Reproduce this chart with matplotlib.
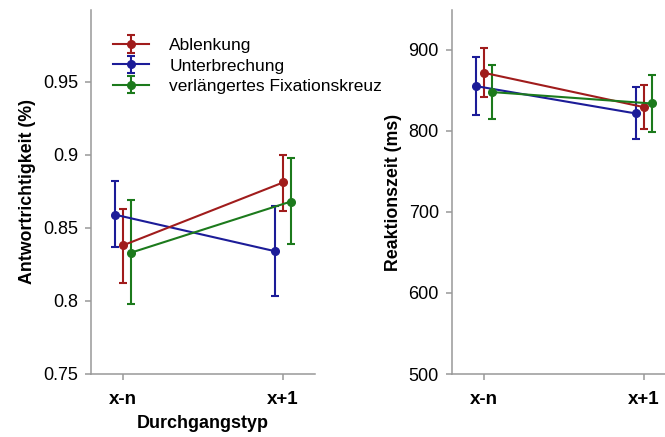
import matplotlib
matplotlib.use("Agg")
import matplotlib.pyplot as plt
import numpy as np

plt.rcParams['font.family'] = ['Liberation Sans', 'DejaVu Sans']

categories = ["x-n", "x+1"]
series = ["Ablenkung", "Unterbrechung", "verlängertes Fixationskreuz"]
colors = ["#A01C1C", "#1C1C98", "#1C7A1C"]
offsets = [0.0, -0.05, 0.05]

acc_mean = [[0.838, 0.881], [0.859, 0.834], [0.833, 0.868]]
acc_low = [[0.8125, 0.8616], [0.837, 0.8034], [0.7977, 0.839]]
acc_high = [[0.863, 0.900], [0.8817, 0.865], [0.869, 0.8977]]

rt_mean = [[871.6, 829.2], [855.2, 821.4], [847.8, 833.7]]
rt_low = [[841.1, 801.6], [818.9, 789.3], [814.4, 799.1]]
rt_high = [[902.5, 856.8], [890.5, 854.0], [881.5, 868.7]]

acc_ticks = [0.75, 0.8, 0.85, 0.9, 0.95]
acc_ticklabels = ["0.75", "0.8", "0.85", "0.9", "0.95"]
rt_ticks = [500, 600, 700, 800, 900]
rt_ticklabels = ["500", "600", "700", "800", "900"]

fig = plt.figure(figsize=(6.65, 4.37), dpi=100)
W, H = 665, 437
ax1 = fig.add_axes([91 / W, 63 / H, 224 / W, 364 / H])
ax2 = fig.add_axes([451.7 / W, 63 / H, 224 / W, 364 / H])

spine_col = "#999999"
x = np.arange(1, len(categories) + 1)

def draw(ax, mean, low, high, ylim, ticks, ticklabels, ylabel, legend=False):
    order = [1, 0, 2]
    handles = {}
    for i in order:
        m = np.array(mean[i]); lo = np.array(low[i]); hi = np.array(high[i])
        eb = ax.errorbar(x + offsets[i], m, yerr=[m - lo, hi - m], color=colors[i],
                         marker='o', markersize=5.5, lw=1.5, elinewidth=1.5,
                         capsize=3, capthick=1.5, label=series[i])
        handles[i] = eb
    ax.set_xlim(0.8, 2.2)
    ax.set_ylim(*ylim)
    ax.set_xticks(x)
    ax.set_xticklabels(categories, fontsize=13.5, fontweight='bold')
    ax.set_yticks(ticks)
    ax.set_yticklabels(ticklabels, fontsize=13)
    for s in ['top', 'right']:
        ax.spines[s].set_visible(False)
    for s in ['left', 'bottom']:
        ax.spines[s].set_color(spine_col)
        ax.spines[s].set_linewidth(1.1)
    ax.tick_params(axis='both', color=spine_col, width=1.1, length=4.5, direction='out')
    ax.tick_params(axis='x', pad=8)
    ax.tick_params(axis='y', pad=4.7)
    ax.set_ylabel(ylabel, fontsize=12.8, fontweight='bold', labelpad=5)
    if legend:
        leg = ax.legend([handles[0], handles[1], handles[2]], series, loc='upper left',
                        bbox_to_anchor=(22 / 224, 1 - 28 / 364), frameon=False,
                        fontsize=12.5, handlelength=2.1, handletextpad=1.15,
                        labelspacing=0.3, borderaxespad=0, borderpad=0)
        leg.set_clip_on(False)

draw(ax1, acc_mean, acc_low, acc_high, (0.75, 0.999), acc_ticks, acc_ticklabels,
     "Antwortrichtigkeit (%)", legend=True)
draw(ax2, rt_mean, rt_low, rt_high, (500, 949), rt_ticks, rt_ticklabels,
     "Reaktionszeit (ms)")
ax1.set_xlabel("Durchgangstyp", fontsize=13, fontweight='bold', labelpad=5)

fig.savefig("out.png", dpi=100)
